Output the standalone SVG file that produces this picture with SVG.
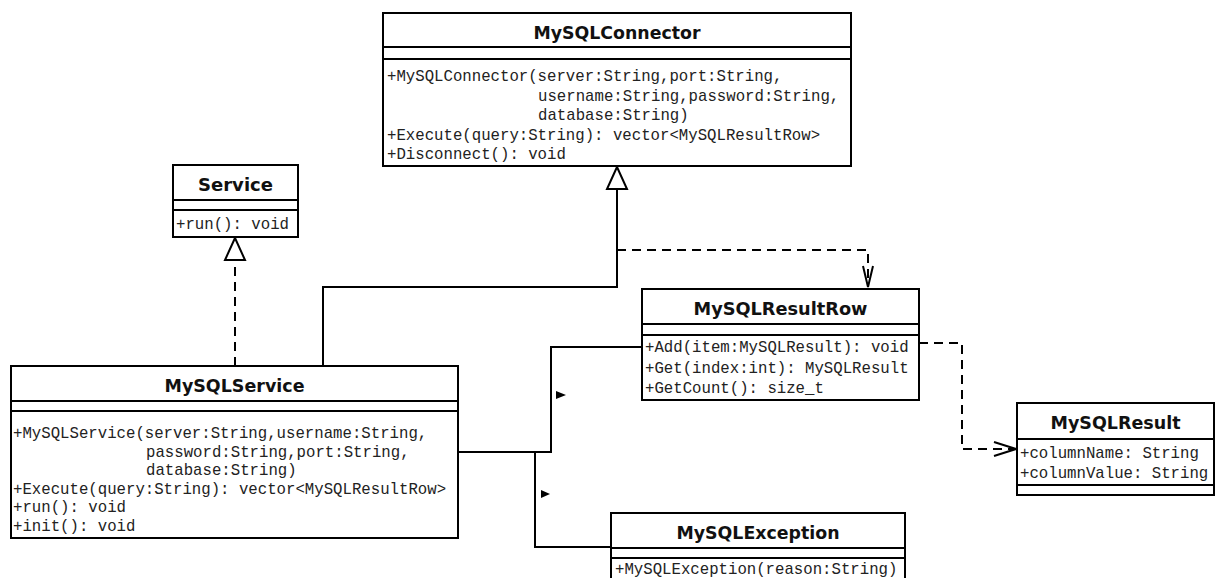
<svg xmlns="http://www.w3.org/2000/svg" width="1217" height="578" viewBox="0 0 1217 578">
<style>
.box{fill:#fff;stroke:#000;stroke-width:2}
.sep{stroke:#000;stroke-width:2}
.title{font-family:"DejaVu Sans",Tahoma,sans-serif;font-weight:bold;font-size:17.5px;text-anchor:middle;fill:#111}
.m{font-family:"Liberation Mono","Courier New",monospace;font-size:15.7px;fill:#222}
.ln{fill:none;stroke:#000;stroke-width:2}
.dash{stroke-dasharray:9 6}
.tri{fill:#fff;stroke:#000;stroke-width:2}
.fill{fill:#000;stroke:none}
</style>
<rect width="1217" height="578" fill="#fff"/>
<g id="connectors">
  <path class="ln dash" d="M235,366 V260"/>
  <polygon class="tri" points="235,238 225,260 245,260"/>
  <path class="ln" d="M323,366 V287 H617 V189"/>
  <polygon class="tri" points="617,167 607,189 627,189"/>
  <path class="ln dash" d="M617,250 H868 V287"/>
  <polyline class="ln" points="863,266 868,287 873,266"/>
  <path class="ln dash" d="M919,343 H962 V449 H1016"/>
  <polyline class="ln" points="994,442 1016,449 994,456"/>
  <path class="ln" d="M458,452 H551 V347 H642"/>
  <path class="ln" d="M535,452 V547 H611"/>
  <polygon class="fill" points="556,391 566,395 556,399"/>
  <polygon class="fill" points="541,490 550,494 541,498"/>
</g>
<g id="MySQLConnector">
  <rect class="box" x="383" y="13" width="468" height="153"/>
  <line class="sep" x1="383" y1="47" x2="851" y2="47"/>
  <line class="sep" x1="383" y1="59" x2="851" y2="59"/>
  <text class="title" x="617" y="39" textLength="167" lengthAdjust="spacingAndGlyphs">MySQLConnector</text>
  <text class="m" x="387" y="81">+MySQLConnector(server:String,port:String,</text>
  <text class="m" x="538" y="100.5">username:String,password:String,</text>
  <text class="m" x="538" y="120">database:String)</text>
  <text class="m" x="387" y="139.5">+Execute(query:String): vector&lt;MySQLResultRow&gt;</text>
  <text class="m" x="387" y="159">+Disconnect(): void</text>
</g>
<g id="Service">
  <rect class="box" x="173" y="165" width="125" height="72"/>
  <line class="sep" x1="173" y1="200" x2="298" y2="200"/>
  <line class="sep" x1="173" y1="210" x2="298" y2="210"/>
  <text class="title" x="235.5" y="191" textLength="75" lengthAdjust="spacingAndGlyphs">Service</text>
  <text class="m" x="176" y="229">+run(): void</text>
</g>
<g id="MySQLService">
  <rect class="box" x="11" y="366" width="447" height="172"/>
  <line class="sep" x1="11" y1="401" x2="458" y2="401"/>
  <line class="sep" x1="11" y1="411" x2="458" y2="411"/>
  <text class="title" x="234.5" y="392" textLength="140" lengthAdjust="spacingAndGlyphs">MySQLService</text>
  <text class="m" x="13" y="438">+MySQLService(server:String,username:String,</text>
  <text class="m" x="146" y="456.6">password:String,port:String,</text>
  <text class="m" x="146" y="475.2">database:String)</text>
  <text class="m" x="13" y="493.8">+Execute(query:String): vector&lt;MySQLResultRow&gt;</text>
  <text class="m" x="13" y="512.4">+run(): void</text>
  <text class="m" x="13" y="531">+init(): void</text>
</g>
<g id="MySQLResultRow">
  <rect class="box" x="642" y="289" width="277" height="111"/>
  <line class="sep" x1="642" y1="324" x2="919" y2="324"/>
  <line class="sep" x1="642" y1="335" x2="919" y2="335"/>
  <text class="title" x="780.5" y="315" textLength="174" lengthAdjust="spacingAndGlyphs">MySQLResultRow</text>
  <text class="m" x="645" y="352">+Add(item:MySQLResult): void</text>
  <text class="m" x="645" y="373">+Get(index:int): MySQLResult</text>
  <text class="m" x="645" y="393">+GetCount(): size_t</text>
</g>
<g id="MySQLResult">
  <rect class="box" x="1017" y="403" width="197" height="92"/>
  <line class="sep" x1="1017" y1="439" x2="1214" y2="439"/>
  <line class="sep" x1="1017" y1="485" x2="1214" y2="485"/>
  <text class="title" x="1115.5" y="429" textLength="130" lengthAdjust="spacingAndGlyphs">MySQLResult</text>
  <text class="m" x="1020" y="458">+columnName: String</text>
  <text class="m" x="1020" y="478">+columnValue: String</text>
</g>
<g id="MySQLException">
  <rect class="box" x="611" y="513" width="294" height="80"/>
  <line class="sep" x1="611" y1="548" x2="905" y2="548"/>
  <line class="sep" x1="611" y1="558" x2="905" y2="558"/>
  <text class="title" x="758" y="539" textLength="163" lengthAdjust="spacingAndGlyphs">MySQLException</text>
  <text class="m" x="615" y="574">+MySQLException(reason:String)</text>
</g>
</svg>
